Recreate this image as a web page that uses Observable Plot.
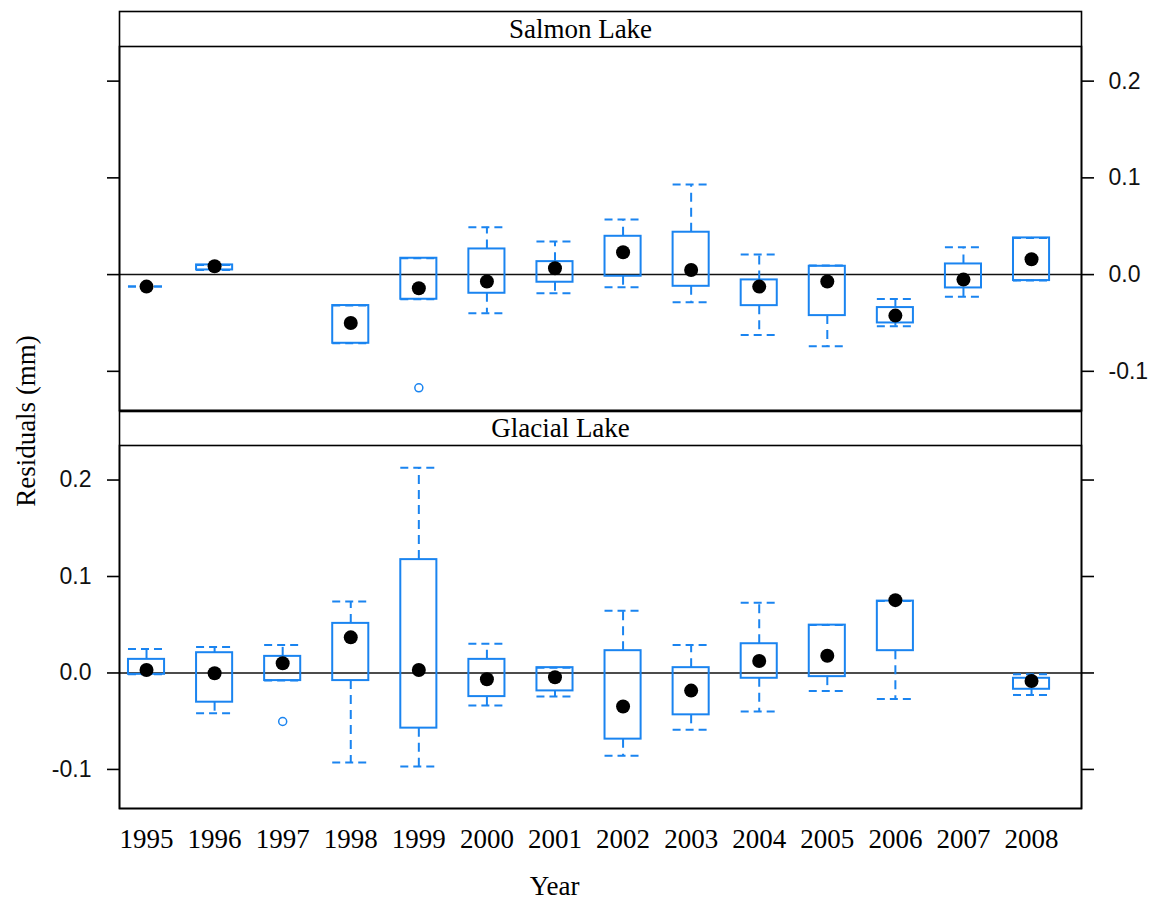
<!DOCTYPE html>
<html>
<head>
<meta charset="utf-8">
<script src="https://cdn.jsdelivr.net/npm/d3@7"></script>
<script src="https://cdn.jsdelivr.net/npm/@observablehq/plot@0.6"></script>
<style>
  body { margin: 0; background: #fff; }
  #wrap { position: relative; width: 1152px; height: 900px; }
  #wrap svg { display: block; }
  #ylab { position: absolute; left: 26px; top: 421px; transform: translate(-50%, -50%) rotate(-90deg);
          font: 27px "Liberation Serif", serif; white-space: nowrap; color: #000; }
</style>
</head>
<body>
<div id="wrap"><div id="ylab">Residuals (mm)</div></div>
<script>
// ---- data ----
const years = [1995, 1996, 1997, 1998, 1999, 2000, 2001, 2002, 2003, 2004, 2005, 2006, 2007, 2008];
const yTicks = [-0.1, 0.0, 0.1, 0.2];
const panels = ["Salmon Lake", "Glacial Lake"];

const salmonLow  = [-0.0124, 0.0048, null, -0.071, -0.0255, -0.040, -0.0193, -0.0131, -0.0286, -0.0624, -0.0741, -0.0534, -0.0228, -0.0062];
const salmonQ1   = [-0.0124, 0.0048, null, -0.071, -0.0255, -0.0193, -0.0079, -0.0017, -0.0121, -0.0321, -0.0424, -0.050, -0.0138, -0.0062];
const salmonMed  = [-0.0124, 0.0086, null, -0.050, -0.0141, -0.0072, 0.0065, 0.0231, 0.0048, -0.0124, -0.0072, -0.0424, -0.0052, 0.0159];
const salmonQ3   = [-0.0124, 0.0100, null, -0.032, 0.0169, 0.0265, 0.0134, 0.0396, 0.0438, -0.0055, 0.0086, -0.0341, 0.0110, 0.0379];
const salmonHigh = [-0.0124, 0.0100, null, -0.032, 0.0169, 0.0490, 0.0341, 0.0569, 0.0931, 0.0207, 0.0093, -0.0252, 0.0283, 0.0379];
const salmonOutYear = [1999];
const salmonOutValue = [-0.117];

const glacialLow  = [-0.0014, -0.0417, -0.0079, -0.0927, -0.0969, -0.0338, -0.0245, -0.0858, -0.0589, -0.0400, -0.0186, -0.0269, null, -0.0228];
const glacialQ1   = [-0.0014, -0.0303, -0.0079, -0.0079, -0.0572, -0.0245, -0.0186, -0.0686, -0.0434, -0.0055, -0.0038, 0.0231, null, -0.0169];
const glacialMed  = [0.0031, -0.0003, 0.0100, 0.0369, 0.0031, -0.0065, -0.0045, -0.0348, -0.0183, 0.0124, 0.0179, 0.0755, null, -0.0083];
const glacialQ3   = [0.0141, 0.0210, 0.0172, 0.0514, 0.1175, 0.0141, 0.0055, 0.0231, 0.0055, 0.0303, 0.0496, 0.0745, null, -0.0055];
const glacialHigh = [0.0248, 0.0269, 0.0290, 0.0741, 0.2127, 0.0303, 0.0055, 0.0645, 0.0290, 0.0727, 0.0496, 0.0745, null, -0.0014];
const glacialOutYear = [1997];
const glacialOutValue = [-0.0503];

// ---- build tables ----
function rows(lo, q1, med, q3, hi) {
  return years.map((year, i) => ({year, lo: lo[i], q1: q1[i], med: med[i], q3: q3[i], hi: hi[i]}))
              .filter(d => d.med != null);
}
const salmon = rows(salmonLow, salmonQ1, salmonMed, salmonQ3, salmonHigh);
const glacial = rows(glacialLow, glacialQ1, glacialMed, glacialQ3, glacialHigh);
const salmonOut = salmonOutYear.map((year, i) => ({year, value: salmonOutValue[i]}));
const glacialOut = glacialOutYear.map((year, i) => ({year, value: glacialOutValue[i]}));

const BLUE = "#1a84f0";
const HW = 0.265;   // half box width in year units
const fmt = d => d.toFixed(1);
const SERIF = "Liberation Serif";

function panel(data, outs, label, opts) {
  const marks = [
    Plot.ruleY([0], {stroke: "#111", strokeWidth: 1.5}),
    // whiskers
    Plot.ruleX(data, {x: "year", y1: "q3", y2: "hi", stroke: BLUE, strokeWidth: 2, strokeDasharray: "9,6"}),
    Plot.ruleX(data, {x: "year", y1: "q1", y2: "lo", stroke: BLUE, strokeWidth: 2, strokeDasharray: "9,6"}),
    // whisker caps
    Plot.ruleY(data, {y: "hi", x1: d => d.year - HW, x2: d => d.year + HW, stroke: BLUE, strokeWidth: 2, strokeDasharray: "8,5"}),
    Plot.ruleY(data, {y: "lo", x1: d => d.year - HW, x2: d => d.year + HW, stroke: BLUE, strokeWidth: 2, strokeDasharray: "8,5"}),
    // boxes
    Plot.rect(data, {x1: d => d.year - HW, x2: d => d.year + HW, y1: "q1", y2: "q3", fill: "none", stroke: BLUE, strokeWidth: 2}),
    // outliers
    Plot.dot(outs, {x: "year", y: "value", r: 4, stroke: BLUE, strokeWidth: 1.5, fill: "none"}),
    // medians
    Plot.dot(data, {x: "year", y: "med", r: 7, fill: "black", stroke: "none"}),
    // frames (panel + strip)
    Plot.frame({stroke: "black", strokeWidth: 1.6}),
    Plot.frame({stroke: "black", strokeWidth: 1.6, insetTop: -opts.strip}),
    Plot.text([label], {text: d => d, frameAnchor: "top", dy: -opts.strip / 2, dx: opts.stripDx,
                        lineAnchor: "middle", fontFamily: SERIF, fontSize: 27, fill: "black"}),
    // y axes
    Plot.axisY({anchor: opts.labelSide, ticks: yTicks, tickSize: 12, tickPadding: opts.labelSide === "right" ? 15 : 16,
                tickFormat: fmt, label: null, fontSize: 23, fill: "#111", strokeWidth: 1.6, stroke: "black"}),
    Plot.axisY({anchor: opts.labelSide === "right" ? "left" : "right", ticks: yTicks, tickSize: 12,
                tickFormat: () => "", label: null, strokeWidth: 1.6, stroke: "black"})
  ];
  if (opts.xaxis) {
    marks.push(Plot.axisX({anchor: "bottom", ticks: years, tickSize: 0, tickPadding: 20, tickFormat: d => String(d),
                           label: null, fontFamily: SERIF, fontSize: 27, fill: "black"}));
    marks.push(Plot.text(["Year"], {text: d => d, frameAnchor: "bottom", dy: 78, dx: -46, lineAnchor: "middle",
                                    fontFamily: SERIF, fontSize: 27, fill: "black"}));
  }
  return Plot.plot({
    width: 1152,
    height: opts.height,
    marginLeft: 119,
    marginRight: 71,
    marginTop: opts.marginTop,
    marginBottom: opts.marginBottom,
    style: {fontFamily: "Liberation Sans", fontSize: "23px", background: "white", overflow: "visible"},
    x: {type: "linear", domain: [1994.603, 2008.734], axis: null},
    y: {domain: [-0.1405, 0.2358], axis: null},
    marks
  });
}

const wrap = document.getElementById("wrap");
wrap.appendChild(panel(salmon, salmonOut, "Salmon Lake",
  {height: 410, marginTop: 46, marginBottom: 0, strip: 35, stripDx: -20, labelSide: "right", xaxis: false}));
wrap.appendChild(panel(glacial, glacialOut, "Glacial Lake",
  {height: 490, marginTop: 35, marginBottom: 92, strip: 34, stripDx: -40, labelSide: "left", xaxis: true}));
</script>
</body>
</html>
